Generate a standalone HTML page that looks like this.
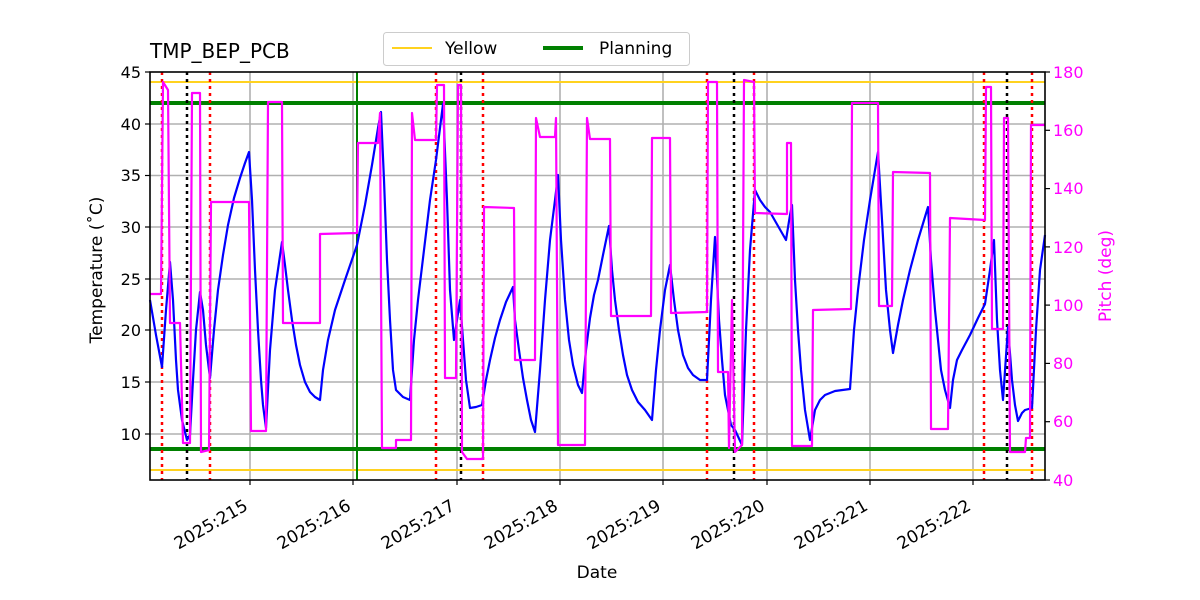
<!DOCTYPE html>
<html><head><meta charset="utf-8"><style>body{margin:0;background:#fff}svg{display:block;font-family:"DejaVu Sans","Liberation Sans",sans-serif}</style></head><body>
<svg width="1200" height="600" viewBox="0 0 1200 600" xmlns="http://www.w3.org/2000/svg">
<rect width="1200" height="600" fill="#fff"/>
<g stroke="#b0b0b0" stroke-width="1.6">
<line x1="250" y1="72" x2="250" y2="480"/><line x1="353" y1="72" x2="353" y2="480"/><line x1="457" y1="72" x2="457" y2="480"/><line x1="560" y1="72" x2="560" y2="480"/><line x1="663" y1="72" x2="663" y2="480"/><line x1="767" y1="72" x2="767" y2="480"/><line x1="870" y1="72" x2="870" y2="480"/><line x1="973" y1="72" x2="973" y2="480"/>
<line x1="150" y1="124" x2="1045" y2="124"/><line x1="150" y1="175.5" x2="1045" y2="175.5"/><line x1="150" y1="227" x2="1045" y2="227"/><line x1="150" y1="279" x2="1045" y2="279"/><line x1="150" y1="330" x2="1045" y2="330"/><line x1="150" y1="382" x2="1045" y2="382"/><line x1="150" y1="434" x2="1045" y2="434"/>
</g>
<line x1="150" y1="82" x2="1045" y2="82" stroke="#ffd21f" stroke-width="2"/>
<line x1="150" y1="470" x2="1045" y2="470" stroke="#ffd21f" stroke-width="2"/>
<line x1="150" y1="103" x2="1045" y2="103" stroke="#008000" stroke-width="4"/>
<line x1="150" y1="449" x2="1045" y2="449" stroke="#008000" stroke-width="4"/>
<line x1="357" y1="72" x2="357" y2="480" stroke="#008000" stroke-width="2"/>
<g stroke="#ff0000" stroke-width="2.5" stroke-dasharray="3,4">
<line x1="162" y1="72" x2="162" y2="480"/><line x1="210" y1="72" x2="210" y2="480"/><line x1="436" y1="72" x2="436" y2="480"/><line x1="483" y1="72" x2="483" y2="480"/><line x1="707" y1="72" x2="707" y2="480"/><line x1="754" y1="72" x2="754" y2="480"/><line x1="984" y1="72" x2="984" y2="480"/><line x1="1032" y1="72" x2="1032" y2="480"/>
</g>
<g stroke="#000" stroke-width="2.5" stroke-dasharray="3,4">
<line x1="187" y1="72" x2="187" y2="480"/><line x1="461" y1="72" x2="461" y2="480"/><line x1="734" y1="72" x2="734" y2="480"/><line x1="1007" y1="72" x2="1007" y2="480"/>
</g>
<polyline fill="none" stroke="#0000ff" stroke-width="2.2" stroke-linejoin="round" points="150,300 156,335 162,367 166,310 170,262 173,300 176,360 178,390 182,420 187,440 190,435 193,380 196,330 200,292 203,310 206,345 210,378 214,330 218,290 223,255 228,225 234,198 240,178 245,163 249,152 252,200 255,270 258,330 261,380 263,405 266,428 270,350 275,290 282,242 285,265 288,290 292,320 296,345 300,365 305,382 310,392 315,397 320,400 323,370 328,340 335,310 345,280 357,245 365,205 372,165 378,128 381,112 384,180 387,260 390,320 393,370 396,390 403,397 410,400 414,340 418,300 424,250 430,200 436,160 443,104 447,200 450,290 454,340 457,320 460,300 463,340 466,380 470,408 476,407 482,405 486,380 490,360 495,338 500,320 506,302 513,287 515,320 519,350 523,378 527,400 531,420 535,432 540,370 545,300 550,240 555,200 558,175 561,240 565,300 569,340 573,365 578,385 582,393 586,350 590,318 594,295 598,280 603,255 609,226 612,270 615,300 619,330 623,355 627,375 632,390 638,402 645,410 652,420 656,370 660,330 665,290 670,265 674,300 678,330 683,355 688,368 693,375 700,380 707,380 711,300 715,237 719,320 722,360 725,395 728,410 731,425 735,430 742,445 746,330 750,250 755,190 760,200 765,207 770,212 778,226 786,240 790,215 792,205 795,280 798,330 801,370 805,410 810,440 815,410 820,400 825,395 835,391 850,389 854,330 858,290 864,240 870,200 875,170 878,152 882,220 886,290 890,330 893,353 898,325 903,300 910,270 918,240 928,207 931,260 935,310 938,340 941,370 945,390 950,408 953,380 957,360 962,350 970,335 978,318 985,304 990,270 994,240 997,320 1000,370 1003,400 1008,327 1012,380 1015,405 1018,421 1022,413 1025,410 1032,408 1036,330 1040,270 1045,235"/>
<polyline fill="none" stroke="#ff00ff" stroke-width="2.2" stroke-linejoin="round" points="150,294 161,294 163,82 168,90 170,323 180,323 183,443 190,443 192,93 200,93 201,452 209,450 211,202 249,202 251,431 266,431 268,102 282,102 283,323 320,323 320,234 357,233 358,143 378,143 380,113 382,448 396,448 396,440 411,440 412,113 415,140 436,140 437,85 444,85 445,378 456,378 458,85 461,85 462,452 467,459 483,459 484,207 514,208 515,360 535,360 536,118 540,137 555,137 556,118 558,445 585,445 587,118 590,139 610,139 611,316 651,316 652,138 670,138 671,313 707,312 708,82 717,82 718,372 728,372 729,448 732,300 735,452 742,445 744,80 754,82 755,213 787,214 787,143 791,143 792,446 812,446 813,310 851,309 852,103 878,103 879,306 892,306 893,172 930,173 931,429 948,429 950,218 985,220 986,87 991,87 992,329 1003,329 1004,118 1008,118 1010,452 1025,452 1026,438 1030,438 1031,125 1045,125"/>
<rect x="150" y="72" width="895" height="408" fill="none" stroke="#000" stroke-width="1.6"/>
<g stroke="#000" stroke-width="1.2">
<line x1="145" y1="72" x2="150" y2="72"/><line x1="145" y1="124" x2="150" y2="124"/><line x1="145" y1="175.5" x2="150" y2="175.5"/><line x1="145" y1="227" x2="150" y2="227"/><line x1="145" y1="279" x2="150" y2="279"/><line x1="145" y1="330" x2="150" y2="330"/><line x1="145" y1="382" x2="150" y2="382"/><line x1="145" y1="434" x2="150" y2="434"/>
<line x1="1045" y1="72" x2="1050" y2="72"/><line x1="1045" y1="130.3" x2="1050" y2="130.3"/><line x1="1045" y1="188.6" x2="1050" y2="188.6"/><line x1="1045" y1="246.9" x2="1050" y2="246.9"/><line x1="1045" y1="305.1" x2="1050" y2="305.1"/><line x1="1045" y1="363.4" x2="1050" y2="363.4"/><line x1="1045" y1="421.7" x2="1050" y2="421.7"/><line x1="1045" y1="480" x2="1050" y2="480"/>
<line x1="250" y1="480" x2="250" y2="485"/><line x1="353" y1="480" x2="353" y2="485"/><line x1="457" y1="480" x2="457" y2="485"/><line x1="560" y1="480" x2="560" y2="485"/><line x1="663" y1="480" x2="663" y2="485"/><line x1="767" y1="480" x2="767" y2="485"/><line x1="870" y1="480" x2="870" y2="485"/><line x1="973" y1="480" x2="973" y2="485"/>
</g>
<g font-size="16" fill="#000" text-anchor="end">
<text x="141" y="78">45</text><text x="141" y="130">40</text><text x="141" y="181">35</text><text x="141" y="233">30</text><text x="141" y="285">25</text><text x="141" y="336">20</text><text x="141" y="388">15</text><text x="141" y="440">10</text>
</g>
<g font-size="16" fill="#ff00ff">
<text x="1053" y="78">180</text><text x="1053" y="136">160</text><text x="1053" y="194">140</text><text x="1053" y="253">120</text><text x="1053" y="311">100</text><text x="1053" y="369">80</text><text x="1053" y="427">60</text><text x="1053" y="486">40</text>
</g>
<g font-size="17" fill="#000" text-anchor="end">
<text transform="translate(249,509) rotate(-30)">2025:215</text>
<text transform="translate(352,509) rotate(-30)">2025:216</text>
<text transform="translate(456,509) rotate(-30)">2025:217</text>
<text transform="translate(559,509) rotate(-30)">2025:218</text>
<text transform="translate(662,509) rotate(-30)">2025:219</text>
<text transform="translate(766,509) rotate(-30)">2025:220</text>
<text transform="translate(869,509) rotate(-30)">2025:221</text>
<text transform="translate(972,509) rotate(-30)">2025:222</text>
</g>
<text x="597" y="578" font-size="17" text-anchor="middle">Date</text>
<text transform="translate(102,270) rotate(-90)" font-size="17" text-anchor="middle">Temperature (˚C)</text>
<text transform="translate(1111,276) rotate(-90)" font-size="17" text-anchor="middle" fill="#ff00ff">Pitch (deg)</text>
<text x="150" y="58" font-size="20">TMP_BEP_PCB</text>
<rect x="383.5" y="32.5" width="306" height="33" rx="3" fill="#fff" stroke="#ccc"/>
<line x1="392" y1="48" x2="432" y2="48" stroke="#ffd21f" stroke-width="2"/>
<text x="445" y="54" font-size="17">Yellow</text>
<line x1="543" y1="48" x2="583" y2="48" stroke="#008000" stroke-width="4"/>
<text x="599" y="54" font-size="17">Planning</text>
</svg>
</body></html>
